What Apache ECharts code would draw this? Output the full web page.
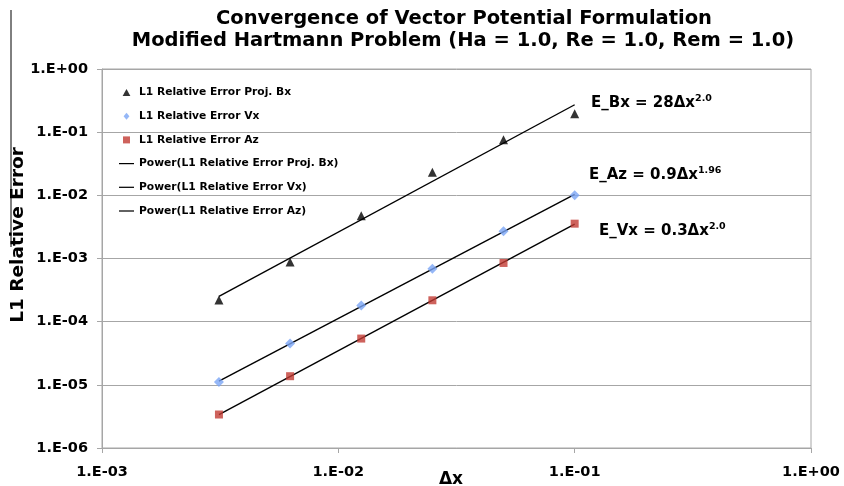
<!DOCTYPE html>
<html>
<head>
<meta charset="utf-8">
<style>
  html, body { margin: 0; padding: 0; background: #fff; }
  #chart { width: 844px; height: 486px; }
</style>
<script src="https://cdn.jsdelivr.net/npm/echarts@6/dist/echarts.min.js"></script>
</head>
<body>
<div id="chart"></div>
<script>
// Grid spacing and measured L1 relative errors
const dx    = [0.1, 0.05, 0.025, 0.0125, 0.00625, 0.003125];
const errBx = [0.196, 0.076, 0.0231, 0.00477, 0.000883, 0.000221];
const errVx = [0.0100, 0.00269, 0.00069, 0.000180, 0.0000450, 0.0000111];
const errAz = [0.00356, 0.00085, 0.000218, 0.0000540, 0.0000137, 0.00000339];

const seriesNames = ['L1 Relative Error Proj. Bx', 'L1 Relative Error Vx', 'L1 Relative Error Az'];
const xTickLabels = ['1.E-03', '1.E-02', '1.E-01', '1.E+00'];
const yTickLabels = ['1.E-06', '1.E-05', '1.E-04', '1.E-03', '1.E-02', '1.E-01', '1.E+00'];

const titleLines = ['Convergence of Vector Potential Formulation',
                    'Modified Hartmann Problem (Ha = 1.0, Re = 1.0, Rem = 1.0)'];

// Least-squares power fit y = a * x^b (straight line in log-log space)
function powerFit(xs, ys) {
  const lx = xs.map(Math.log10), ly = ys.map(Math.log10);
  const n = lx.length;
  const mx = lx.reduce((s, v) => s + v, 0) / n;
  const my = ly.reduce((s, v) => s + v, 0) / n;
  let sxy = 0, sxx = 0;
  for (let i = 0; i < n; i++) { sxy += (lx[i] - mx) * (ly[i] - my); sxx += (lx[i] - mx) ** 2; }
  const b = sxy / sxx;
  const a = Math.pow(10, my - b * mx);
  const xmin = Math.min(...xs), xmax = Math.max(...xs);
  return [[xmin, a * Math.pow(xmin, b)], [xmax, a * Math.pow(xmax, b)]];
}

const pairs = ys => dx.map((x, i) => [x, ys[i]]);
const labelFor = (labels, minExp) => v => labels[Math.round(Math.log10(v)) - minExp] || '';

const FONT = 'DejaVu Sans';
const chart = echarts.init(document.getElementById('chart'), null, { renderer: 'canvas' });

// legend icons: small marker glyphs and a thin bar for the trend lines
const ICON_TRIANGLE = 'path://M5,0 L10,9 L0,9 Z';
const ICON_DIAMOND  = 'path://M5,0 L10,6 L5,12 L0,6 Z';
const ICON_SQUARE   = 'path://M0,0 L10,0 L10,10 L0,10 Z';
const ICON_LINE     = 'path://M0,0 L17,0 L17,1.4 L0,1.4 Z';

const trend = {
  type: 'line', symbol: 'none', showSymbol: false, silent: true,
  lineStyle: { color: '#000', width: 1.4 }, itemStyle: { color: '#000' }, z: 2
};

chart.setOption({
  animation: false,
  backgroundColor: '#fff',
  textStyle: { fontFamily: FONT },
  grid: { left: 102, right: 33, top: 69, bottom: 38, show: true, borderColor: '#a6a6a6', borderWidth: 1 },
  legend: {
    orient: 'vertical', left: 114, top: 82, itemWidth: 15, itemHeight: 7, itemGap: 12.7,
    textStyle: { fontFamily: FONT, fontWeight: 'bold', fontSize: 10.7, color: '#000' },
    data: [
      { name: seriesNames[0], icon: ICON_TRIANGLE },
      { name: seriesNames[1], icon: ICON_DIAMOND },
      { name: seriesNames[2], icon: ICON_SQUARE },
      { name: 'Power(' + seriesNames[0] + ')', icon: ICON_LINE },
      { name: 'Power(' + seriesNames[1] + ')', icon: ICON_LINE },
      { name: 'Power(' + seriesNames[2] + ')', icon: ICON_LINE }
    ]
  },
  xAxis: {
    type: 'log', logBase: 10, min: 0.001, max: 1,
    axisLine: { show: true, lineStyle: { color: '#a6a6a6' } },
    axisTick: { show: true, inside: false, length: 5, lineStyle: { color: '#a6a6a6' } },
    minorTick: { show: false },
    splitLine: { show: false },
    axisLabel: { margin: 17, color: '#000', fontFamily: FONT, fontWeight: 'bold', fontSize: 14.5,
                 formatter: labelFor(xTickLabels, -3) }
  },
  yAxis: {
    type: 'log', logBase: 10, min: 1e-6, max: 1,
    axisLine: { show: true, lineStyle: { color: '#a6a6a6' } },
    axisTick: { show: true, inside: false, length: 5, lineStyle: { color: '#a6a6a6' } },
    splitLine: { show: true, lineStyle: { color: '#a6a6a6', width: 1 } },
    axisLabel: { margin: 14, color: '#000', fontFamily: FONT, fontWeight: 'bold', fontSize: 14.5,
                 formatter: labelFor(yTickLabels, -6) }
  },
  series: [
    { name: seriesNames[0], type: 'scatter', symbol: 'triangle', symbolSize: 9,
      itemStyle: { color: '#000' }, data: pairs(errBx), z: 3 },
    { name: seriesNames[1], type: 'scatter', symbol: 'diamond', symbolSize: 10,
      itemStyle: { color: '#7ba5f5' }, data: pairs(errVx), z: 3 },
    { name: seriesNames[2], type: 'scatter', symbol: 'rect', symbolSize: 8,
      itemStyle: { color: '#c23b33' }, data: pairs(errAz), z: 3 },
    Object.assign({ name: 'Power(' + seriesNames[0] + ')', data: powerFit(dx, errBx) }, trend),
    Object.assign({ name: 'Power(' + seriesNames[1] + ')', data: powerFit(dx, errVx) }, trend),
    Object.assign({ name: 'Power(' + seriesNames[2] + ')', data: powerFit(dx, errAz) }, trend)
  ],
  graphic: [
    // chart frame edge on the left
    { type: 'line', shape: { x1: 11, y1: 10, x2: 11, y2: 247 }, style: { stroke: '#000', lineWidth: 1 }, silent: true },
    { type: 'text', x: 464, y: 19, style: { text: titleLines[0], font: 'bold 19.5px "DejaVu Sans"', fill: '#000', align: 'center', verticalAlign: 'middle' } },
    { type: 'text', x: 463, y: 41, style: { text: titleLines[1], font: 'bold 19.5px "DejaVu Sans"', fill: '#000', align: 'center', verticalAlign: 'middle' } },
    { type: 'text', x: 18, y: 235, rotation: Math.PI / 2,
      style: { text: 'L1 Relative Error', font: 'bold 18.5px "DejaVu Sans"', fill: '#000', align: 'center', verticalAlign: 'middle' } },
    { type: 'text', x: 451, y: 480, style: { text: 'Δx', font: 'bold 17px "DejaVu Sans"', fill: '#000', align: 'center', verticalAlign: 'middle' } },
    { type: 'text', x: 591, y: 103, style: {
        text: '{b|E_Bx = 28Δx}{s|2.0}', verticalAlign: 'middle',
        rich: { b: { font: 'bold 15px "DejaVu Sans"', fill: '#000' },
                s: { font: 'bold 9.5px "DejaVu Sans"', fill: '#000', verticalAlign: 'top', padding: [0, 0, 8, 0] } } } },
    { type: 'text', x: 589, y: 175, style: {
        text: '{b|E_Az = 0.9Δx}{s|1.96}', verticalAlign: 'middle',
        rich: { b: { font: 'bold 15px "DejaVu Sans"', fill: '#000' },
                s: { font: 'bold 9.5px "DejaVu Sans"', fill: '#000', verticalAlign: 'top', padding: [0, 0, 8, 0] } } } },
    { type: 'text', x: 599, y: 231, style: {
        text: '{b|E_Vx = 0.3Δx}{s|2.0}', verticalAlign: 'middle',
        rich: { b: { font: 'bold 15px "DejaVu Sans"', fill: '#000' },
                s: { font: 'bold 9.5px "DejaVu Sans"', fill: '#000', verticalAlign: 'top', padding: [0, 0, 8, 0] } } } }
  ]
});
</script>
</body>
</html>
